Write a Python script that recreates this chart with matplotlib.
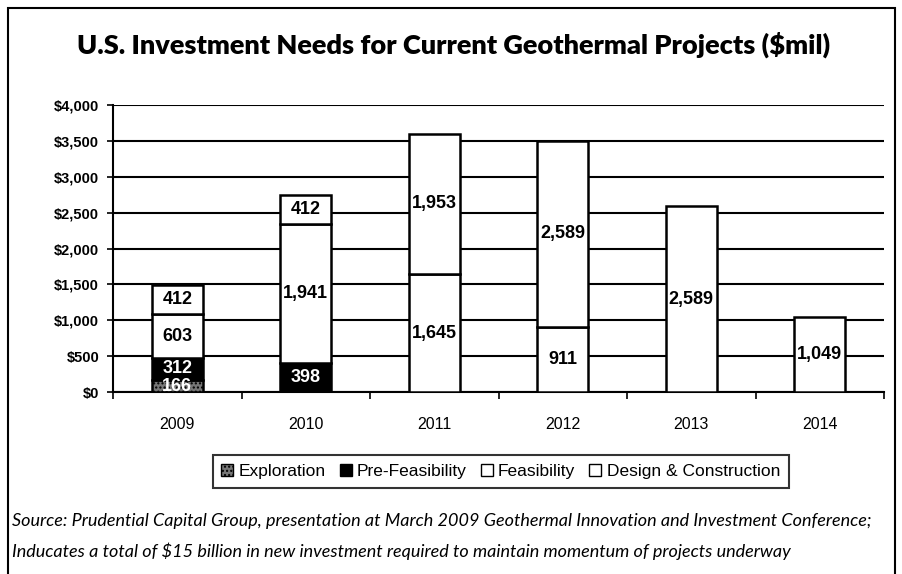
import matplotlib
matplotlib.use("Agg")
import matplotlib.pyplot as plt
from matplotlib.patches import Rectangle, Patch

years = ["2009", "2010", "2011", "2012", "2013", "2014"]
exploration = [166, 0, 0, 0, 0, 0]
pre_feasibility = [312, 398, 0, 0, 0, 0]
feasibility = [603, 1941, 1645, 911, 0, 0]
design_construction = [412, 412, 1953, 2589, 2589, 1049]

y_ticks = [0, 500, 1000, 1500, 2000, 2500, 3000, 3500, 4000]
y_labels = ["$0", "$500", "$1,000", "$1,500", "$2,000", "$2,500", "$3,000", "$3,500", "$4,000"]

fig = plt.figure(figsize=(9.02, 5.74), dpi=100)
ax = fig.add_axes([0.1253, 0.317, 0.8548, 0.5])

x = list(range(len(years)))
series = [
    ("Exploration", exploration, dict(color="#777777", hatch="....")),
    ("Pre-Feasibility", pre_feasibility, dict(color="black")),
    ("Feasibility", feasibility, dict(color="white")),
    ("Design & Construction", design_construction, dict(color="white")),
]

bottom = [0] * len(years)
for name, vals, style in series:
    ax.bar(x, vals, bottom=bottom, width=0.4, edgecolor="black", linewidth=1.8,
           zorder=3, **style)
    for i, v in enumerate(vals):
        if v == 0:
            continue
        txt_color = "white" if style["color"] != "white" else "black"
        ax.text(i, bottom[i] + v / 2, f"{v:,}", ha="center", va="center",
                fontsize=13, fontweight="bold", color=txt_color,
                family="Liberation Sans", zorder=4)
    bottom = [b + v for b, v in zip(bottom, vals)]

ax.set_xlim(-0.5, 5.5)
ax.set_ylim(0, 4000)
ax.set_yticks(y_ticks)
ax.set_yticklabels(y_labels, fontsize=10.5, fontweight="bold", family="Liberation Sans")
ax.yaxis.grid(True, color="black", linewidth=1.5, zorder=0)
ax.set_xticks([i + 0.5 for i in range(-1, 6)])
ax.set_xticklabels([])
ax.set_xticks(x, minor=True)
ax.set_xticklabels(years, minor=True, fontsize=11.5, family="Liberation Sans")
ax.tick_params(axis="x", which="minor", length=0, pad=18)
ax.tick_params(axis="x", which="major", length=5, width=1.2)
ax.tick_params(axis="y", length=4, width=1.2, pad=6)
for s in ["top", "right"]:
    ax.spines[s].set_visible(False)
ax.spines["left"].set_linewidth(1.5)
ax.spines["bottom"].set_linewidth(1.5)

fig.text(0.503, 0.922, "U.S. Investment Needs for Current Geothermal Projects ($mil)",
         ha="center", va="center", fontsize=19.5, fontweight="heavy", family="Lato")

handles = [Patch(facecolor="#777777", hatch="....", edgecolor="black", label="Exploration"),
           Patch(facecolor="black", edgecolor="black", label="Pre-Feasibility"),
           Patch(facecolor="white", edgecolor="black", label="Feasibility"),
           Patch(facecolor="white", edgecolor="black", label="Design & Construction")]
leg = fig.legend(handles=handles, loc="center", bbox_to_anchor=(0.555, 0.179), ncol=4,
                 fancybox=False, edgecolor="black", handlelength=0.7, handleheight=0.7,
                 handletextpad=0.3, columnspacing=0.8, borderpad=0.5,
                 prop=dict(family="Liberation Sans", size=12.5))
leg.get_frame().set_linewidth(1.5)

fig.text(0.013, 0.093, "Source: Prudential Capital Group, presentation at March 2009 Geothermal Innovation and Investment Conference;",
         fontsize=13, style="italic", family="Lato", va="center")
fig.text(0.013, 0.040, "Inducates a total of $15 billion in new investment required to maintain momentum of projects underway",
         fontsize=13, style="italic", family="Lato", va="center")

fig.add_artist(Rectangle((0.009, -0.02), 0.983, 1.006, transform=fig.transFigure,
                         fill=False, linewidth=1.5, edgecolor="black"))

fig.savefig("out.png", dpi=100)
